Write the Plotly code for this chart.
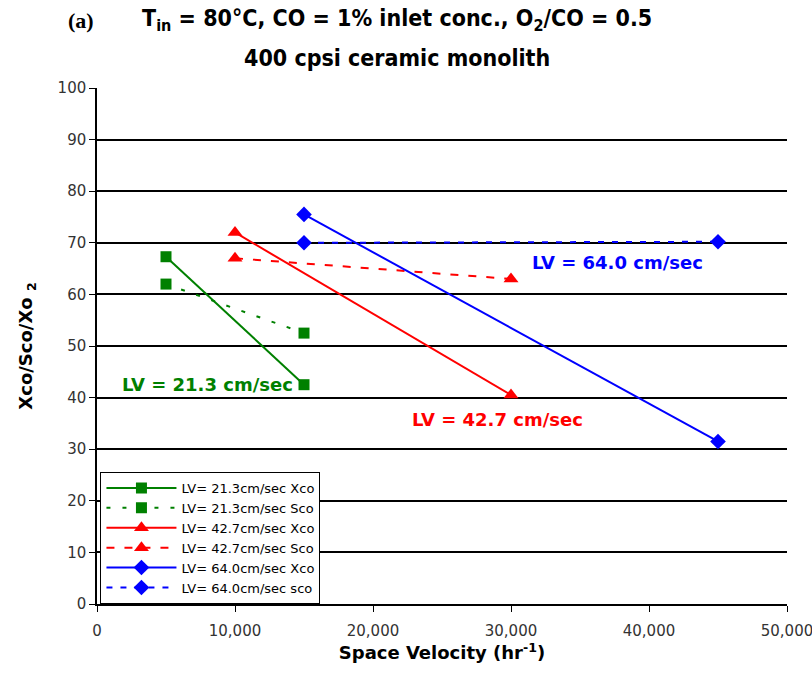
import plotly.graph_objects as go

# Space velocity (hr^-1) and conversion / selectivity values for each linear velocity
sv_21 = [5000, 15000]
xco_21 = [67.3, 42.5]
sco_21 = [62.0, 52.5]

sv_42 = [10000, 30000]
xco_42 = [72.0, 40.5]
sco_42 = [67.0, 63.0]

sv_64 = [15000, 45000]
xco_64 = [75.5, 31.5]
sco_64 = [70.0, 70.2]

names = [
    "LV= 21.3cm/sec Xco", "LV= 21.3cm/sec Sco",
    "LV= 42.7cm/sec Xco", "LV= 42.7cm/sec Sco",
    "LV= 64.0cm/sec Xco", "LV= 64.0cm/sec sco",
]

GREEN, RED, BLUE = "#008000", "#ff0000", "#0000ff"

fig = go.Figure()

def add(x, y, name, color, symbol, size, dash):
    fig.add_trace(go.Scatter(
        x=x, y=y, name=name, mode="lines+markers",
        line=dict(color=color, width=2, dash=dash),
        marker=dict(color=color, symbol=symbol, size=size),
    ))

add(sv_21, xco_21, names[0], GREEN, "square", 11, "solid")
add(sv_21, sco_21, names[1], GREEN, "square", 11, "4px,12px")
add(sv_42, xco_42, names[2], RED, "triangle-up", 13, "solid")
add(sv_42, sco_42, names[3], RED, "triangle-up", 13, "8px,10px")
add(sv_64, xco_64, names[4], BLUE, "diamond", 12, "solid")
add(sv_64, sco_64, names[5], BLUE, "diamond", 12, "6px,8px")

wide = "DejaVu Sans, Verdana, sans-serif"
narrow = "DejaVu Sans Condensed, Liberation Sans Narrow, Arial Narrow, sans-serif"

fig.add_annotation(x=8000, y=42.5, text="<b>LV = 21.3 cm/sec</b>", showarrow=False,
                   font=dict(color=GREEN, size=18, family=wide), xanchor="center")
fig.add_annotation(x=29000, y=35.7, text="<b>LV = 42.7 cm/sec</b>", showarrow=False,
                   font=dict(color=RED, size=18, family=wide), xanchor="center")
fig.add_annotation(x=37700, y=66.1, text="<b>LV = 64.0 cm/sec</b>", showarrow=False,
                   font=dict(color=BLUE, size=18, family=wide), xanchor="center")

title_font = dict(family=narrow, size=23, color="black")
fig.add_annotation(xref="paper", yref="paper", x=0.435, y=1.0, yshift=68,
                   text="<b>T<sub>in</sub> = 80°C, CO = 1% inlet conc., O<sub>2</sub>/CO = 0.5</b>",
                   showarrow=False, font=title_font, xanchor="center", yanchor="middle")
fig.add_annotation(xref="paper", yref="paper", x=0.435, y=1.0, yshift=30,
                   text="<b>400 cpsi ceramic monolith</b>",
                   showarrow=False, font=title_font, xanchor="center", yanchor="middle")
fig.add_annotation(xref="paper", yref="paper", x=-0.023, y=1.0, yshift=68,
                   text="<b>(a)</b>", showarrow=False,
                   font=dict(family="Liberation Serif, DejaVu Serif, Times New Roman, serif",
                             size=22, color="black"),
                   xanchor="center", yanchor="middle")

axis_font = dict(family=wide, size=15, color="#333333")
fig.update_layout(
    width=812, height=689,
    margin=dict(l=97, r=25, t=88, b=85),
    paper_bgcolor="white", plot_bgcolor="white",
    showlegend=True,
    legend=dict(
        x=0.005, y=0.0, xanchor="left", yanchor="bottom",
        bgcolor="white", bordercolor="black", borderwidth=1,
        font=dict(family=wide, size=13, color="black"),
        tracegroupgap=0, itemwidth=70,
    ),
    xaxis=dict(
        range=[0, 50000], tickvals=[0, 10000, 20000, 30000, 40000, 50000],
        ticktext=["0", "10,000", "20,000", "30,000", "40,000", "50,000"],
        automargin=False, ticklabeloverflow="allow", ticklabelstandoff=6,
        showgrid=False, zeroline=False, showline=True, linecolor="black", linewidth=1.5,
        ticks="outside", ticklen=6, tickcolor="black", tickfont=axis_font,
        title=dict(text="<b>Space Velocity (hr<sup>-1</sup>)</b>",
                   font=dict(family=wide, size=18, color="black"),
                   standoff=0),
    ),
    yaxis=dict(
        range=[0, 100], dtick=10, automargin=False,
        showgrid=True, gridcolor="black", gridwidth=1.5, zeroline=False,
        showline=True, linecolor="black", linewidth=1.5,
        ticks="outside", ticklen=6, tickcolor="black", tickfont=axis_font,
        title=dict(text="<b>Xco/Sco/Xo <sub>2</sub></b>",
                   font=dict(family=wide, size=18, color="black"),
                   standoff=20),
    ),
)

fig.write_html("out.html")
